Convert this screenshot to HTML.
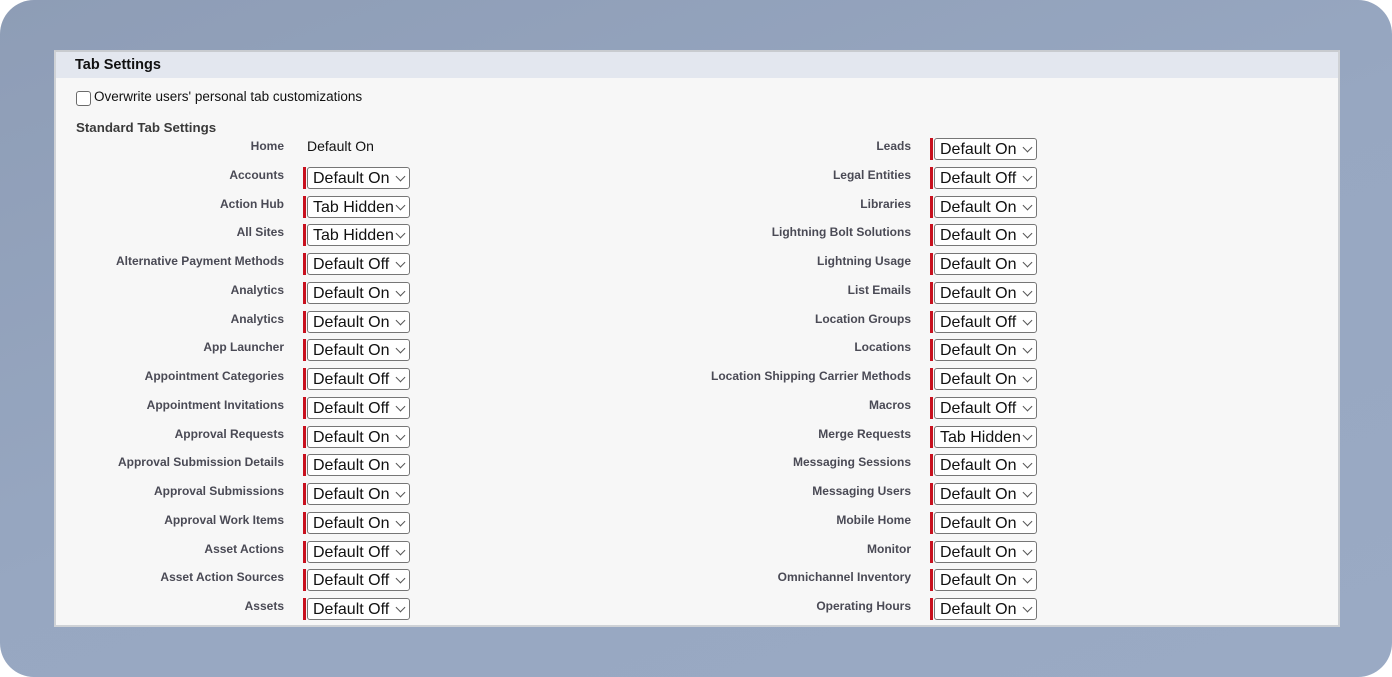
<!DOCTYPE html>
<html><head><meta charset="utf-8"><style>
html,body{margin:0;padding:0;width:1392px;height:677px;background:#fff;overflow:hidden;font-family:"Liberation Sans",Arial,sans-serif}
.bg{position:absolute;left:0;top:0;width:1392px;height:677px;border-radius:34px;background:linear-gradient(160deg,#8e9db6 0%,#97a7c1 50%,#9aaac4 100%)}
.panel{position:absolute;left:54px;top:50px;width:1282px;height:573px;background:#f7f7f7;border:2px solid #cfd2d6;border-top-color:#c8cbcf}
.hdr{position:absolute;left:0;top:0;width:1282px;height:26px;background:#e3e7ef}
.hdr span{position:absolute;left:19px;top:5px;font-weight:bold;font-size:14.5px;color:#111}
.cb{position:absolute;left:20px;top:39px;width:13px;height:13px;border:1px solid #6b6b6b;border-radius:3px;background:#fff}
.cbl{position:absolute;left:38px;top:37px;font-size:13.5px;color:#111}
.sts{position:absolute;left:20px;top:68px;font-weight:bold;font-size:13.3px;color:#3a3a3a}
.r{position:absolute;height:22px}
.l{position:absolute;right:0;top:1px;font-weight:bold;font-size:12px;color:#4a4a55;white-space:nowrap;text-align:right}
.bar{position:absolute;top:0;width:3px;height:22px;background:#c8101e}
.s{position:absolute;top:0;width:96px;height:20px;border:1px solid #767676;border-radius:3px;background:#fff;font-size:16px;color:#111;line-height:21px;padding-left:5px;box-sizing:content-box;white-space:nowrap;overflow:hidden}
.s:after{content:"";position:absolute;right:5px;top:5px;width:6px;height:6px;border-right:1px solid #555;border-bottom:1px solid #555;transform:rotate(45deg);background:#fff}
</style></head><body>
<div class="bg"></div>
<div class="panel">
<div class="hdr"><span>Tab Settings</span></div>
<div class="cb"></div><div class="cbl">Overwrite users' personal tab customizations</div>
<div class="sts">Standard Tab Settings</div>
</div>
<div style="position:absolute;left:0;top:0">
<div class="r" style="left:0;top:138px;width:284px"><div class="l">Home</div></div>
<div style="position:absolute;left:307px;top:138px;font-size:14px;color:#111;white-space:nowrap">Default On</div>

<div class="r" style="left:0;top:167px;width:284px"><div class="l">Accounts</div></div><div class="bar" style="left:303px;top:167px"></div><div class="s" style="left:307px;top:167px">Default On</div>
<div class="r" style="left:0;top:195.5px;width:284px"><div class="l">Action Hub</div></div><div class="bar" style="left:303px;top:195.5px"></div><div class="s" style="left:307px;top:195.5px">Tab Hidden</div>
<div class="r" style="left:0;top:224px;width:284px"><div class="l">All Sites</div></div><div class="bar" style="left:303px;top:224px"></div><div class="s" style="left:307px;top:224px">Tab Hidden</div>
<div class="r" style="left:0;top:253px;width:284px"><div class="l">Alternative Payment Methods</div></div><div class="bar" style="left:303px;top:253px"></div><div class="s" style="left:307px;top:253px">Default Off</div>
<div class="r" style="left:0;top:282px;width:284px"><div class="l">Analytics</div></div><div class="bar" style="left:303px;top:282px"></div><div class="s" style="left:307px;top:282px">Default On</div>
<div class="r" style="left:0;top:310.5px;width:284px"><div class="l">Analytics</div></div><div class="bar" style="left:303px;top:310.5px"></div><div class="s" style="left:307px;top:310.5px">Default On</div>
<div class="r" style="left:0;top:339px;width:284px"><div class="l">App Launcher</div></div><div class="bar" style="left:303px;top:339px"></div><div class="s" style="left:307px;top:339px">Default On</div>
<div class="r" style="left:0;top:368px;width:284px"><div class="l">Appointment Categories</div></div><div class="bar" style="left:303px;top:368px"></div><div class="s" style="left:307px;top:368px">Default Off</div>
<div class="r" style="left:0;top:397px;width:284px"><div class="l">Appointment Invitations</div></div><div class="bar" style="left:303px;top:397px"></div><div class="s" style="left:307px;top:397px">Default Off</div>
<div class="r" style="left:0;top:425.5px;width:284px"><div class="l">Approval Requests</div></div><div class="bar" style="left:303px;top:425.5px"></div><div class="s" style="left:307px;top:425.5px">Default On</div>
<div class="r" style="left:0;top:454px;width:284px"><div class="l">Approval Submission Details</div></div><div class="bar" style="left:303px;top:454px"></div><div class="s" style="left:307px;top:454px">Default On</div>
<div class="r" style="left:0;top:483px;width:284px"><div class="l">Approval Submissions</div></div><div class="bar" style="left:303px;top:483px"></div><div class="s" style="left:307px;top:483px">Default On</div>
<div class="r" style="left:0;top:512px;width:284px"><div class="l">Approval Work Items</div></div><div class="bar" style="left:303px;top:512px"></div><div class="s" style="left:307px;top:512px">Default On</div>
<div class="r" style="left:0;top:540.5px;width:284px"><div class="l">Asset Actions</div></div><div class="bar" style="left:303px;top:540.5px"></div><div class="s" style="left:307px;top:540.5px">Default Off</div>
<div class="r" style="left:0;top:569px;width:284px"><div class="l">Asset Action Sources</div></div><div class="bar" style="left:303px;top:569px"></div><div class="s" style="left:307px;top:569px">Default Off</div>
<div class="r" style="left:0;top:598px;width:284px"><div class="l">Assets</div></div><div class="bar" style="left:303px;top:598px"></div><div class="s" style="left:307px;top:598px">Default Off</div>

<div class="r" style="left:0;top:138px;width:911px"><div class="l">Leads</div></div><div class="bar" style="left:930px;top:138px"></div><div class="s" style="left:934px;top:138px">Default On</div>
<div class="r" style="left:0;top:167px;width:911px"><div class="l">Legal Entities</div></div><div class="bar" style="left:930px;top:167px"></div><div class="s" style="left:934px;top:167px">Default Off</div>
<div class="r" style="left:0;top:195.5px;width:911px"><div class="l">Libraries</div></div><div class="bar" style="left:930px;top:195.5px"></div><div class="s" style="left:934px;top:195.5px">Default On</div>
<div class="r" style="left:0;top:224px;width:911px"><div class="l">Lightning Bolt Solutions</div></div><div class="bar" style="left:930px;top:224px"></div><div class="s" style="left:934px;top:224px">Default On</div>
<div class="r" style="left:0;top:253px;width:911px"><div class="l">Lightning Usage</div></div><div class="bar" style="left:930px;top:253px"></div><div class="s" style="left:934px;top:253px">Default On</div>
<div class="r" style="left:0;top:282px;width:911px"><div class="l">List Emails</div></div><div class="bar" style="left:930px;top:282px"></div><div class="s" style="left:934px;top:282px">Default On</div>
<div class="r" style="left:0;top:310.5px;width:911px"><div class="l">Location Groups</div></div><div class="bar" style="left:930px;top:310.5px"></div><div class="s" style="left:934px;top:310.5px">Default Off</div>
<div class="r" style="left:0;top:339px;width:911px"><div class="l">Locations</div></div><div class="bar" style="left:930px;top:339px"></div><div class="s" style="left:934px;top:339px">Default On</div>
<div class="r" style="left:0;top:368px;width:911px"><div class="l">Location Shipping Carrier Methods</div></div><div class="bar" style="left:930px;top:368px"></div><div class="s" style="left:934px;top:368px">Default On</div>
<div class="r" style="left:0;top:397px;width:911px"><div class="l">Macros</div></div><div class="bar" style="left:930px;top:397px"></div><div class="s" style="left:934px;top:397px">Default Off</div>
<div class="r" style="left:0;top:425.5px;width:911px"><div class="l">Merge Requests</div></div><div class="bar" style="left:930px;top:425.5px"></div><div class="s" style="left:934px;top:425.5px">Tab Hidden</div>
<div class="r" style="left:0;top:454px;width:911px"><div class="l">Messaging Sessions</div></div><div class="bar" style="left:930px;top:454px"></div><div class="s" style="left:934px;top:454px">Default On</div>
<div class="r" style="left:0;top:483px;width:911px"><div class="l">Messaging Users</div></div><div class="bar" style="left:930px;top:483px"></div><div class="s" style="left:934px;top:483px">Default On</div>
<div class="r" style="left:0;top:512px;width:911px"><div class="l">Mobile Home</div></div><div class="bar" style="left:930px;top:512px"></div><div class="s" style="left:934px;top:512px">Default On</div>
<div class="r" style="left:0;top:540.5px;width:911px"><div class="l">Monitor</div></div><div class="bar" style="left:930px;top:540.5px"></div><div class="s" style="left:934px;top:540.5px">Default On</div>
<div class="r" style="left:0;top:569px;width:911px"><div class="l">Omnichannel Inventory</div></div><div class="bar" style="left:930px;top:569px"></div><div class="s" style="left:934px;top:569px">Default On</div>
<div class="r" style="left:0;top:598px;width:911px"><div class="l">Operating Hours</div></div><div class="bar" style="left:930px;top:598px"></div><div class="s" style="left:934px;top:598px">Default On</div>
</div>
</body></html>
